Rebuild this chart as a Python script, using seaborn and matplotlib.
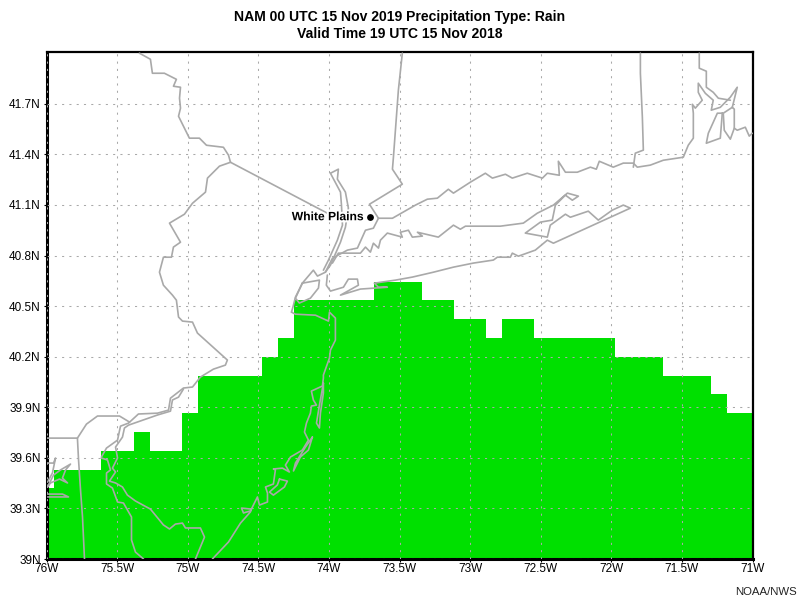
import numpy as np
import pandas as pd
import matplotlib.pyplot as plt
import matplotlib.patheffects as pe
import seaborn as sns

# rain area: left edge of each step (lon), last one closes at 71W, and top of step (lat)
rain_edges = [-76, -75.95, -75.611, -75.377, -75.264, -75.037, -74.924, -74.471, -74.357, -74.244,
              -73.678, -73.338, -73.111, -72.885, -72.772, -72.545, -71.971, -71.632, -71.292, -71.179, -71]
rain_tops = [39.421, 39.528, 39.64, 39.753, 39.64, 39.865, 40.085, 40.197, 40.31, 40.535,
             40.642, 40.535, 40.423, 40.31, 40.423, 40.31, 40.197, 40.085, 39.978, 39.865]

# map lines, (lon, lat)
pa_ny = [(-75.342, 42.0), (-75.264, 41.964), (-75.25, 41.881), (-75.165, 41.881), (-75.08, 41.845), (-75.101, 41.804),
         (-75.051, 41.798), (-75.058, 41.733), (-75.051, 41.674), (-75.065, 41.626), (-74.988, 41.496), (-74.917, 41.496),
         (-74.867, 41.454), (-74.747, 41.442), (-74.711, 41.395), (-74.697, 41.353)]
ny_nj = [(-74.697, 41.353), (-74.011, 41.051), (-73.911, 41.004)]
delaware_river = [(-74.697, 41.353), (-74.775, 41.33), (-74.86, 41.259), (-74.874, 41.176), (-74.966, 41.11), (-75.023, 41.045),
                  (-75.129, 40.992), (-75.051, 40.879), (-75.101, 40.85), (-75.115, 40.79), (-75.172, 40.79), (-75.2, 40.701),
                  (-75.172, 40.624), (-75.108, 40.565), (-75.08, 40.535), (-75.065, 40.435), (-75.037, 40.411), (-74.966, 40.405),
                  (-74.931, 40.34), (-74.719, 40.18), (-74.733, 40.15), (-74.818, 40.126), (-74.91, 40.079), (-74.966, 40.02),
                  (-75.03, 40.014), (-75.122, 39.954), (-75.136, 39.883), (-75.214, 39.865), (-75.349, 39.86), (-75.419, 39.806),
                  (-75.476, 39.788), (-75.497, 39.705), (-75.575, 39.658), (-75.611, 39.605)]
bay_west = [(-75.611, 39.599), (-75.568, 39.587), (-75.547, 39.528), (-75.575, 39.51), (-75.575, 39.445), (-75.533, 39.421),
            (-75.497, 39.338), (-75.455, 39.332), (-75.398, 39.249), (-75.398, 39.113), (-75.37, 39.041), (-75.313, 39.0)]
bay_east = [(-75.03, 40.008), (-75.065, 39.96), (-75.108, 39.943), (-75.122, 39.877), (-75.214, 39.854), (-75.419, 39.794),
            (-75.448, 39.777), (-75.462, 39.723), (-75.511, 39.664), (-75.497, 39.599), (-75.533, 39.539), (-75.511, 39.516),
            (-75.554, 39.462), (-75.511, 39.451), (-75.462, 39.427), (-75.427, 39.379), (-75.37, 39.344), (-75.264, 39.296),
            (-75.172, 39.202), (-75.129, 39.178), (-75.087, 39.207), (-75.037, 39.213), (-75.016, 39.184), (-74.91, 39.184),
            (-74.881, 39.13), (-74.945, 39.0)]
pa_de = [(-76, 39.717), (-75.781, 39.717), (-75.717, 39.8), (-75.639, 39.848), (-75.483, 39.848), (-75.412, 39.812)]
md_de = [(-75.781, 39.717), (-75.773, 39.587), (-75.759, 39.409), (-75.745, 39.249), (-75.731, 39.0)]
chesapeake_1 = [(-75.993, 39.427), (-75.95, 39.498), (-75.901, 39.528), (-75.83, 39.563), (-75.865, 39.528), (-75.887, 39.48),
                (-75.851, 39.451), (-75.908, 39.474), (-75.972, 39.451), (-75.993, 39.427)]
chesapeake_2 = [(-75.993, 39.569), (-75.95, 39.569), (-75.936, 39.599), (-75.958, 39.51), (-75.993, 39.456)]
chesapeake_3 = [(-75.993, 39.385), (-75.887, 39.385), (-75.844, 39.368), (-75.993, 39.368)]
nj_coast = [(-74.825, 39.0), (-74.711, 39.101), (-74.626, 39.213), (-74.556, 39.279), (-74.549, 39.296), (-74.619, 39.302),
            (-74.605, 39.273), (-74.556, 39.285), (-74.549, 39.296), (-74.506, 39.368), (-74.492, 39.32), (-74.435, 39.338),
            (-74.435, 39.391), (-74.449, 39.427), (-74.393, 39.445), (-74.379, 39.528), (-74.393, 39.534), (-74.329, 39.539),
            (-74.28, 39.516), (-74.308, 39.557), (-74.272, 39.605), (-74.188, 39.646), (-74.145, 39.705), (-74.173, 39.753),
            (-74.159, 39.806), (-74.131, 39.865), (-74.124, 39.907), (-74.088, 39.913), (-74.11, 39.943), (-74.124, 39.996),
            (-74.046, 40.026), (-74.039, 40.073), (-74.039, 40.091), (-73.996, 40.192), (-73.989, 40.239), (-73.954, 40.298),
            (-73.954, 40.429), (-73.996, 40.464), (-74.003, 40.411), (-74.095, 40.446), (-74.237, 40.452), (-74.265, 40.464)]
island_a = [(-74.039, 40.043), (-74.067, 39.913), (-74.088, 39.806), (-74.067, 39.777), (-74.06, 39.865), (-74.039, 39.984), (-74.039, 40.043)]
island_b = [(-74.117, 39.723), (-74.166, 39.664), (-74.237, 39.569), (-74.251, 39.522), (-74.202, 39.605), (-74.145, 39.646), (-74.117, 39.723)]
island_c = [(-74.35, 39.474), (-74.294, 39.462), (-74.315, 39.427), (-74.393, 39.379), (-74.421, 39.397), (-74.365, 39.439), (-74.35, 39.474)]
hudson_east = [(-73.989, 41.288), (-73.933, 41.312), (-73.94, 41.253), (-73.883, 41.176), (-73.862, 41.081), (-73.883, 40.968),
               (-73.918, 40.879), (-73.989, 40.743), (-74.025, 40.701), (-74.081, 40.678), (-74.11, 40.713), (-74.188, 40.636),
               (-74.237, 40.553), (-74.251, 40.506), (-74.265, 40.464)]
hudson_west = [(-73.989, 41.288), (-73.918, 41.176), (-73.911, 41.099), (-73.904, 40.98), (-73.94, 40.891), (-74.003, 40.773), (-74.039, 40.713)]
staten_island = [(-74.188, 40.636), (-74.067, 40.654), (-74.074, 40.607), (-74.131, 40.547), (-74.209, 40.518), (-74.237, 40.547), (-74.188, 40.636)]
ny_ct = [(-73.48, 42.0), (-73.508, 41.78), (-73.543, 41.383), (-73.55, 41.312), (-73.48, 41.223), (-73.713, 41.104), (-73.649, 41.021)]
westchester = [(-74.025, 40.701), (-73.975, 40.784), (-73.869, 40.832), (-73.798, 40.844), (-73.741, 40.95), (-73.685, 40.962), (-73.649, 41.021)]
ct_coast = [(-73.649, 41.021), (-73.55, 41.021), (-73.387, 41.099), (-73.303, 41.134), (-73.232, 41.14), (-73.154, 41.193), (-73.118, 41.17),
            (-72.998, 41.235), (-72.892, 41.288), (-72.842, 41.259), (-72.75, 41.282), (-72.701, 41.259), (-72.595, 41.288), (-72.488, 41.259),
            (-72.453, 41.288), (-72.368, 41.276), (-72.375, 41.359), (-72.325, 41.294), (-72.241, 41.294), (-72.148, 41.324), (-72.106, 41.312),
            (-72.085, 41.359), (-71.986, 41.324), (-71.915, 41.348), (-71.844, 41.348), (-71.816, 41.324), (-71.724, 41.336), (-71.632, 41.365),
            (-71.49, 41.383), (-71.455, 41.454), (-71.419, 41.496), (-71.419, 41.644), (-71.426, 41.697), (-71.405, 41.674), (-71.356, 41.721),
            (-71.384, 41.768), (-71.384, 41.822), (-71.334, 41.762), (-71.278, 41.721), (-71.292, 41.662), (-71.228, 41.679), (-71.157, 41.739),
            (-71.108, 41.798), (-71.143, 41.679), (-71.129, 41.668), (-71.129, 41.555), (-71.157, 41.49), (-71.2, 41.543), (-71.207, 41.644), (-71.143, 41.679)]
ri_island = [(-71.214, 41.644), (-71.249, 41.644), (-71.313, 41.525), (-71.327, 41.466), (-71.228, 41.496), (-71.214, 41.644)]
ma_south = [(-71.129, 41.555), (-71.108, 41.543), (-71.051, 41.561), (-71.023, 41.508), (-71.002, 41.525)]
ma_border = [(-71.377, 42.0), (-71.377, 41.911), (-71.327, 41.893), (-71.327, 41.798), (-71.278, 41.768), (-71.242, 41.733), (-71.157, 41.721)]
ct_east = [(-71.794, 42.0), (-71.794, 41.881), (-71.78, 41.62), (-71.773, 41.425), (-71.83, 41.407), (-71.844, 41.324)]
long_island = [(-73.975, 40.755), (-73.933, 40.814), (-73.777, 40.814), (-73.741, 40.85), (-73.706, 40.82), (-73.685, 40.873), (-73.649, 40.844),
               (-73.635, 40.891), (-73.586, 40.933), (-73.48, 40.909), (-73.494, 40.938), (-73.437, 40.95), (-73.409, 40.909), (-73.338, 40.915),
               (-73.373, 40.938), (-73.225, 40.909), (-73.118, 40.98), (-73.069, 40.956), (-73.033, 40.974), (-72.786, 40.974), (-72.623, 40.992),
               (-72.524, 41.051), (-72.41, 41.099), (-72.311, 41.17), (-72.233, 41.152), (-72.276, 41.128), (-72.325, 41.158), (-72.396, 41.099),
               (-72.418, 41.01), (-72.502, 40.998), (-72.609, 40.933), (-72.453, 40.909), (-72.432, 40.98), (-72.325, 41.045), (-72.29, 41.027),
               (-72.163, 41.063), (-72.092, 41.01), (-71.993, 41.069), (-71.915, 41.099), (-71.865, 41.081), (-72.41, 40.873), (-72.453, 40.891),
               (-72.538, 40.832), (-72.658, 40.796), (-72.701, 40.814), (-72.715, 40.79), (-72.807, 40.79), (-72.835, 40.773), (-72.977, 40.755),
               (-73.118, 40.731), (-73.26, 40.701), (-73.409, 40.672), (-73.529, 40.654), (-73.678, 40.636), (-73.649, 40.612), (-73.586, 40.612),
               (-73.777, 40.601), (-73.918, 40.565), (-73.791, 40.624), (-73.798, 40.66), (-73.862, 40.66), (-73.897, 40.612), (-73.989, 40.589),
               (-74.018, 40.624), (-74.011, 40.684)]

map_lines = [pa_ny, ny_nj, delaware_river, bay_west, bay_east, pa_de, md_de, chesapeake_1, chesapeake_2, chesapeake_3,
             nj_coast, island_a, island_b, island_c, hudson_east, hudson_west, staten_island, ny_ct, westchester,
             ct_coast, ri_island, ma_south, ma_border, ct_east, long_island]

city_lon = [-73.706]
city_lat = [41.027]
city_name = "White Plains"

lon_ticks = [-76, -75.5, -75, -74.5, -74, -73.5, -73, -72.5, -72, -71.5, -71]
lon_labels = ["76W", "75.5W", "75W", "74.5W", "74W", "73.5W", "73W", "72.5W", "72W", "71.5W", "71W"]
lat_ticks = [39, 39.3, 39.6, 39.9, 40.2, 40.5, 40.8, 41.1, 41.4, 41.7]
lat_labels = ["39N", "39.3N", "39.6N", "39.9N", "40.2N", "40.5N", "40.8N", "41.1N", "41.4N", "41.7N"]

sns.set_style("white")
plt.rcParams["font.family"] = ["Liberation Sans", "DejaVu Sans"]
plt.rcParams["text.color"] = "black"

fig = plt.figure(figsize=(8, 6), dpi=100)
ax = fig.add_axes([46.5 / 800, 1 - 559 / 600, 706 / 800, 507.5 / 600])

ax.stairs(rain_tops, rain_edges, baseline=39, fill=True, color="#00e000", linewidth=0, zorder=1)

for line in map_lines:
    part = pd.DataFrame(line, columns=["lon", "lat"])
    sns.lineplot(data=part, x="lon", y="lat", sort=False, estimator=None, errorbar=None,
                 color="#a9a9a9", linewidth=1.2, ax=ax, zorder=3)

sns.scatterplot(x=city_lon, y=city_lat, color="black", s=24, linewidth=0, ax=ax, zorder=5)
ax.annotate(city_name, (city_lon[0], city_lat[0]), xytext=(-4.5, 0), textcoords="offset points", ha="right", va="center",
            fontsize=8.7, fontweight="bold", color="black", zorder=5,
            path_effects=[pe.withStroke(linewidth=3, foreground="white")])

ax.set_xlim(-76, -71)
ax.set_ylim(39, 42.01)
ax.set_xticks(lon_ticks, lon_labels)
ax.set_yticks(lat_ticks, lat_labels)
ax.set_xlabel("")
ax.set_ylabel("")
ax.tick_params(axis="both", length=2.2, width=0.8, labelsize=8.5, color="black", labelcolor="black", bottom=True, left=True)
ax.tick_params(axis="x", pad=1)
ax.tick_params(axis="y", pad=2)
ax.grid(True, color="#a9a9a9", linestyle=(0, (2, 5)), linewidth=0.75)
ax.set_axisbelow(False)
for gl in ax.get_xgridlines() + ax.get_ygridlines():
    gl.set_zorder(2)

for side, width in {"left": 2.2, "bottom": 2.2, "top": 1.6, "right": 1.6}.items():
    ax.spines[side].set_visible(True)
    ax.spines[side].set_color("black")
    ax.spines[side].set_linewidth(width)

fig.text(0.5, 1 - 17.5 / 600, "NAM 00 UTC 15 Nov 2019 Precipitation Type: Rain", ha="center", va="center",
         fontsize=10.05, fontweight="bold")
fig.text(0.5, 1 - 33.5 / 600, "Valid Time 19 UTC 15 Nov 2018", ha="center", va="center",
         fontsize=10.05, fontweight="bold")
fig.text(797 / 800, 1 - 592 / 600, "NOAA/NWS", ha="right", va="center", fontsize=8.2, color="#222222")

fig.savefig("out.png", dpi=100)
